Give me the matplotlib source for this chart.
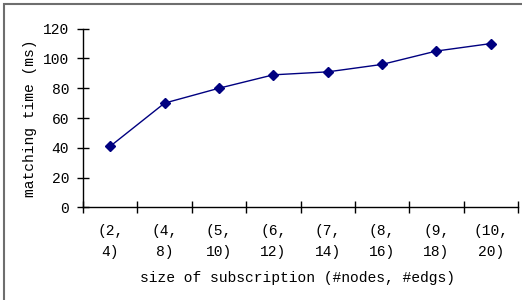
import matplotlib
matplotlib.use("Agg")
import matplotlib.pyplot as plt
from matplotlib.patches import Rectangle

categories = ["(2,\n4)", "(4,\n8)", "(5,\n10)", "(6,\n12)", "(7,\n14)", "(8,\n16)", "(9,\n18)", "(10,\n20)"]
matching_time = [41, 70, 80, 89, 91, 96, 105, 110]
y_ticks = [0, 20, 40, 60, 80, 100, 120]

plt.rcParams['font.family'] = ['Liberation Mono', 'DejaVu Sans Mono']

W, H = 522, 300
fig = plt.figure(figsize=(W/100, H/100), dpi=100)
ax = fig.add_axes([83/W, 1-207.3/H, 435/W, 178.6/H])

x = list(range(len(categories)))
ax.plot(x, matching_time, color='#000080', lw=1.0, marker='D', markersize=5,
        markerfacecolor='#000080', markeredgecolor='#000080')

ax.set_xlim(-0.5, len(categories) - 0.5)
ax.set_ylim(0, 120)
ax.set_yticks(y_ticks)
ax.set_yticklabels([str(v) for v in y_ticks], fontsize=10.5)

# category boundaries as major ticks, labels on minor ticks at centers
ax.set_xticks([i - 0.5 for i in range(len(categories) + 1)])
ax.set_xticklabels([])
ax.set_xticks(x, minor=True)
ax.set_xticklabels(categories, minor=True, fontsize=10.5, linespacing=1.6)
ax.tick_params(axis='x', which='minor', length=0, pad=12)
ax.tick_params(axis='x', which='major', direction='inout', length=8, width=1, color='black')
ax.tick_params(axis='y', which='major', direction='inout', length=8, width=1, pad=6, color='black')

for s in ['top', 'right']:
    ax.spines[s].set_visible(False)
for s in ['left', 'bottom']:
    ax.spines[s].set_linewidth(1.0)
    ax.spines[s].set_color('black')

ax.set_xlabel("size of subscription (#nodes, #edgs)", fontsize=10.5, va='center')
ax.xaxis.set_label_coords(0.494, -0.396)
ax.set_ylabel("matching time (ms)", fontsize=10.5, va='center')
ax.yaxis.set_label_coords(-0.122, 0.498)

# outer frame
fig.patches.append(Rectangle((3.5/W, -0.2), 2.0, 1.2 - 4.3/H, transform=fig.transFigure,
                             fill=False, edgecolor='#6e6e6e', lw=1.5))

fig.savefig("out.png", dpi=100)
